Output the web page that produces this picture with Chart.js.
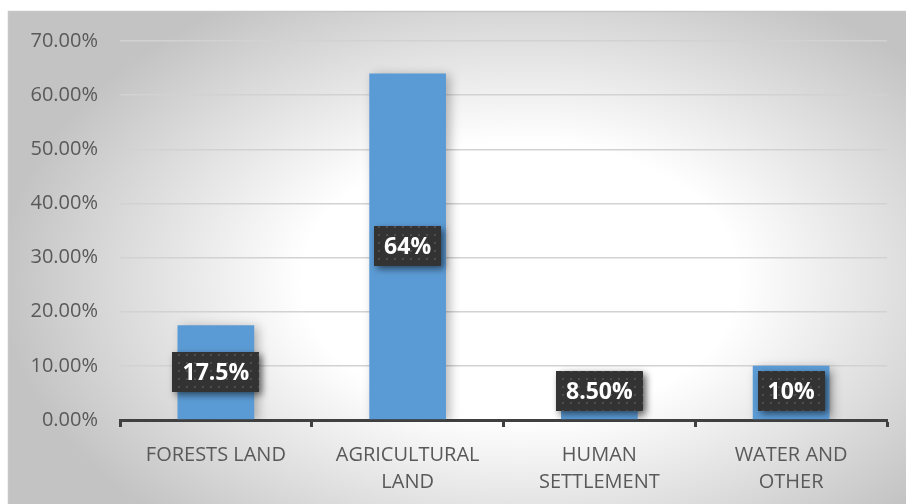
<!DOCTYPE html>
<html>
<head>
<meta charset="utf-8">
<script src="https://cdn.jsdelivr.net/npm/chart.js@4/dist/chart.umd.min.js"></script>
<style>
  html, body { margin: 0; padding: 0; background: #ffffff; }
  #wrap { width: 906px; height: 504px; position: relative; }
</style>
</head>
<body>
<div id="wrap"><canvas id="c" width="906" height="504"></canvas></div>
<script>
// Land use shares
const categories = [['FORESTS LAND'], ['AGRICULTURAL', 'LAND'], ['HUMAN', 'SETTLEMENT'], ['WATER AND', 'OTHER']];
const shares = [0.175, 0.64, 0.085, 0.10];
const shareLabels = ['17.5%', '64%', '8.50%', '10%'];
const yTicks = [0, 0.1, 0.2, 0.3, 0.4, 0.5, 0.6, 0.7];

const FONT = "'Open Sans', 'DejaVu Sans', sans-serif";

// Panel background: soft radial fill framed by a thin grey border
const panelBackground = {
  id: 'panelBackground',
  beforeDraw(chart) {
    const ctx = chart.ctx;
    const W = chart.width, H = chart.height;
    ctx.save();
    ctx.fillStyle = '#ffffff';
    ctx.fillRect(0, 0, W, H);
    const x0 = 8, y0 = 11;
    ctx.save();
    ctx.beginPath();
    ctx.rect(x0, y0, W - x0, H - y0);
    ctx.clip();
    const cx = 520, cy = 280, rx = 520, ry = 330;
    ctx.translate(cx, cy);
    ctx.scale(1, ry / rx);
    const g = ctx.createRadialGradient(0, 0, 0, 0, 0, rx);
    g.addColorStop(0, '#ffffff');
    g.addColorStop(0.42, '#ffffff');
    g.addColorStop(1, '#c3c3c3');
    ctx.fillStyle = g;
    ctx.fillRect(-cx - 10, -cy * rx / ry - 10, W * 2, H * 2 * rx / ry);
    ctx.restore();
    ctx.strokeStyle = '#c6c6c6';
    ctx.lineWidth = 1.5;
    ctx.beginPath();
    ctx.moveTo(x0 + 0.5, H + 2);
    ctx.lineTo(x0 + 0.5, y0 + 0.5);
    ctx.lineTo(W + 2, y0 + 0.5);
    ctx.stroke();
    ctx.restore();
  }
};

// Soft drop shadow behind the bars
const barShadow = {
  id: 'barShadow',
  beforeDatasetDraw(chart) {
    const ctx = chart.ctx;
    ctx.save();
    ctx.shadowColor = 'rgba(0,0,0,0.28)';
    ctx.shadowBlur = 10;
    ctx.shadowOffsetX = 4;
    ctx.shadowOffsetY = 2;
  },
  afterDatasetDraw(chart) {
    chart.ctx.restore();
  }
};

// Dark dotted callout boxes holding each bar's value
function dotPattern(ctx) {
  const p = document.createElement('canvas');
  p.width = 8; p.height = 8;
  const pc = p.getContext('2d');
  pc.fillStyle = '#333333';
  pc.fillRect(0, 0, 8, 8);
  pc.fillStyle = '#4d4d4d';
  pc.fillRect(2, 2, 2, 2);
  return ctx.createPattern(p, 'repeat');
}

const valueBoxes = {
  id: 'valueBoxes',
  afterDatasetsDraw(chart) {
    const ctx = chart.ctx;
    const meta = chart.getDatasetMeta(0);
    const pattern = dotPattern(ctx);
    ctx.save();
    ctx.font = "bold 23px " + FONT;
    meta.data.forEach((bar, i) => {
      const text = shareLabels[i];
      const tw = ctx.measureText(text).width;
      const bw = Math.round(tw + 20), bh = 40;
      let cy = (bar.y + bar.base) / 2;
      if (cy + bh / 2 > bar.base - 8) cy = bar.base - 8 - bh / 2;
      const bx = Math.round(bar.x - bw / 2), by = Math.round(cy - bh / 2);
      ctx.save();
      ctx.shadowColor = 'rgba(0,0,0,0.55)';
      ctx.shadowBlur = 7;
      ctx.shadowOffsetX = 3;
      ctx.shadowOffsetY = 3;
      ctx.fillStyle = pattern;
      ctx.fillRect(bx, by, bw, bh);
      ctx.restore();
      ctx.fillStyle = '#ffffff';
      ctx.textAlign = 'center';
      ctx.textBaseline = 'middle';
      ctx.fillText(text, bar.x, cy + 1);
    });
    ctx.restore();
  }
};

new Chart(document.getElementById('c'), {
  type: 'bar',
  data: {
    labels: categories,
    datasets: [{
      data: shares,
      backgroundColor: '#5b9bd5',
      borderWidth: 0,
      categoryPercentage: 1,
      barPercentage: 0.4
    }]
  },
  options: {
    responsive: false,
    animation: false,
    events: [],
    layout: { padding: { left: 8, right: 19, top: 41, bottom: 0 } },
    plugins: { legend: { display: false }, tooltip: { enabled: false } },
    scales: {
      x: {
        offset: true,
        border: { display: true, color: '#404040', width: 3 },
        grid: {
          display: true,
          offset: true,
          drawOnChartArea: false,
          drawTicks: true,
          tickLength: 7,
          tickWidth: 3,
          tickColor: '#404040'
        },
        ticks: {
          color: '#595959',
          font: { family: FONT, size: 20, lineHeight: 1.38 },
          padding: 14,
          maxRotation: 0,
          autoSkip: false
        },
        afterFit(scale) { scale.height = 84; }
      },
      y: {
        min: 0,
        max: 0.7,
        border: { display: false },
        grid: { color: '#d2d2d2', lineWidth: 1.5, drawTicks: false },
        afterBuildTicks(scale) { scale.ticks = yTicks.map(v => ({ value: v })); },
        ticks: {
          color: '#595959',
          font: { family: FONT, size: 20 },
          padding: 22,
          callback: v => (v * 100).toFixed(2) + '%'
        },
        afterFit(scale) { scale.width = 112; }
      }
    }
  },
  plugins: [panelBackground, barShadow, valueBoxes]
});
</script>
</body>
</html>
